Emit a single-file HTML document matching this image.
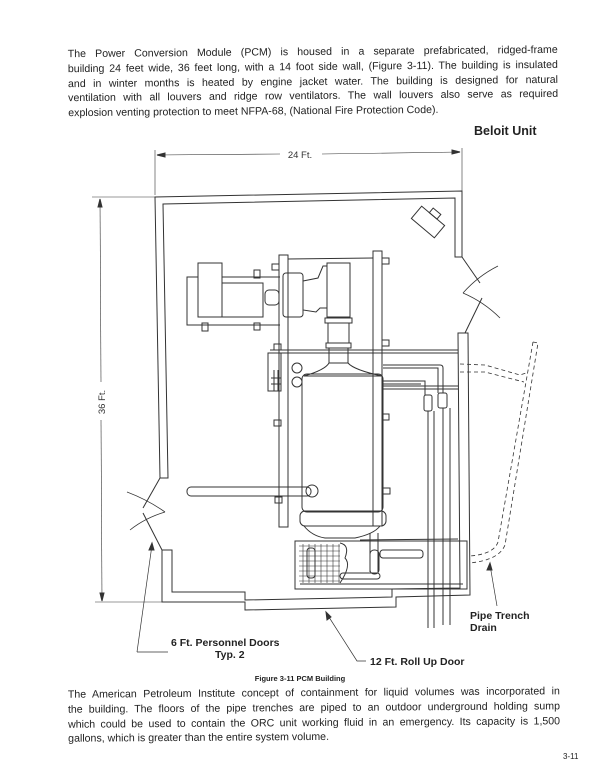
<!DOCTYPE html>
<html><head><meta charset="utf-8"><style>
html,body{margin:0;padding:0;background:#fff;}
body{width:612px;height:780px;position:relative;overflow:hidden;font-family:"Liberation Sans",sans-serif;color:#222;}
.p{position:absolute;left:68px;width:490px;font-size:10.6px;line-height:14.8px;text-align:justify;text-align-last:justify;}
.p div{white-space:nowrap;}
svg{position:absolute;left:0;top:0;}
</style></head><body>
<div class="p" style="top:45px;transform:rotate(-0.5deg);">
<div>The Power Conversion Module (PCM) is housed in a separate prefabricated, ridged-frame</div>
<div>building 24 feet wide, 36 feet long, with a 14 foot side wall, (Figure 3-11). The building is insulated</div>
<div>and in winter months is heated by engine jacket water. The building is designed for natural</div>
<div>ventilation with all louvers and ridge row ventilators. The wall louvers also serve as required</div>
<div style="text-align-last:left">explosion venting protection to meet NFPA-68, (National Fire Protection Code).</div>
</div>
<div style="position:absolute;left:474px;top:124px;font-weight:bold;font-size:12.5px;">Beloit Unit</div>

<svg width="612" height="780" viewBox="0 0 612 780" fill="none" stroke="#333" stroke-width="1">
<!-- dimension 24 ft -->
<line x1="155" y1="150" x2="155" y2="195" stroke-width="0.6"/>
<line x1="462" y1="148" x2="462" y2="192" stroke-width="0.6"/>
<line x1="157" y1="155" x2="280" y2="154" stroke-width="0.6"/>
<line x1="322" y1="154" x2="460" y2="152" stroke-width="0.6"/>
<path d="M157 155 l8 -2 l0 4z M460 152 l-8 -2 l0 4z" fill="#333"/>
<text x="300" y="158" font-size="9.5" fill="#333" stroke="none" text-anchor="middle" font-family="Liberation Sans">24 Ft.</text>
<!-- dimension 36 ft -->
<line x1="92" y1="197" x2="155" y2="197" stroke-width="0.6"/>
<line x1="95" y1="602" x2="162" y2="602" stroke-width="0.6"/>
<line x1="100" y1="199" x2="101" y2="382" stroke-width="0.6"/>
<line x1="101" y1="420" x2="102" y2="600" stroke-width="0.6"/>
<path d="M100 199 l-2 8 l4 0z M102 601 l-2 -8 l4 0z" fill="#333"/>
<text transform="translate(105,402) rotate(-90)" font-size="9.5" fill="#333" stroke="none" text-anchor="middle" font-family="Liberation Sans">36 Ft.</text>
<!-- walls -->
<path d="M160 478 L155 197 L462 191 L462 257 L455 257 L455 198 L163 204 L168 478 Z"/>
<path d="M160 478 L143 508"/>
<path d="M143 513 L162 550"/>
<path d="M462 257 L480 283"/>
<path d="M482 298 L465 333"/>
<path d="M162 550 L162 602 L245 602 L245 610 L396 607 L396 597 L470 595 L468 333 L458 333 L460 588 L392 589 L392 597 L245 600 L245 592 L172 592 L172 550 Z"/>
<!-- door arcs -->
<path d="M463 293 Q478 276 498 266" stroke-width="0.8"/>
<path d="M463 293 Q484 302 500 318" stroke-width="0.8"/>
<path d="M165 512 Q148 500 127 492" stroke-width="0.8"/>
<path d="M165 512 Q145 518 130 530" stroke-width="0.8"/>
<!-- light -->
<g transform="translate(428,222) rotate(40)"><rect x="-15" y="-8" width="30" height="16"/><rect x="-5" y="-14" width="10" height="6"/></g>
<!-- motor -->
<rect x="198" y="263" width="24" height="54"/>
<rect x="222" y="283" width="41" height="34"/>
<rect x="265" y="290" width="14" height="15" rx="4"/>
<path d="M198 277 L187 277 L187 325 L280 325 M222 277 L280 277"/>
<rect x="254" y="270" width="6" height="8"/><rect x="202" y="323" width="6" height="8"/><rect x="254" y="323" width="6" height="7"/>
<!-- frame rails -->
<rect x="279" y="255" width="9" height="272"/>
<rect x="373" y="251" width="9" height="275"/>
<line x1="288" y1="259" x2="373" y2="258"/>
<rect x="272" y="264" width="7" height="6"/><rect x="382" y="258" width="7" height="6"/>
<rect x="274" y="344" width="7" height="6"/><rect x="382" y="340" width="7" height="6"/>
<rect x="274" y="420" width="7" height="6"/><rect x="382" y="414" width="7" height="6"/>
<rect x="275" y="497" width="7" height="6"/><rect x="383" y="488" width="7" height="6"/>
<!-- gearbox & turbine -->
<rect x="283" y="273" width="20" height="44" rx="3"/>
<path d="M303 281 L318 278 L323 266 L327 266 L327 308 L320 308 L316 312 L303 310z"/>
<rect x="327" y="263" width="23" height="54"/>
<rect x="325" y="318" width="27" height="5"/>
<rect x="328" y="323" width="21" height="20"/>
<rect x="326" y="343" width="25" height="5"/>
<rect x="329" y="348" width="19" height="15"/>
<path d="M329 363 Q325 370 304 376 L382 376 Q354 370 348 363"/>
<circle cx="297" cy="368" r="5"/><circle cx="297" cy="382" r="5"/>
<!-- vessel -->
<rect x="302" y="374" width="81" height="138" rx="5"/>
<rect x="300" y="511" width="86" height="15" rx="5"/>
<path d="M304 526 Q312 536 325 538 L355 538 Q374 534 380 526"/>
<!-- horizontal pipes -->
<line x1="270" y1="350" x2="458" y2="350"/><line x1="270" y1="353" x2="458" y2="353"/>
<path d="M383 365 L440 365 Q443 365 443 368 L443 393 M383 368 L438 368 L438 393"/>
<path d="M383 381 L425 381 L425 395 M383 384 L421 384"/>
<line x1="383" y1="386" x2="458" y2="386"/><line x1="383" y1="389" x2="458" y2="389"/>
<!-- vertical pipes -->
<rect x="424" y="395" width="8" height="16" rx="2"/><rect x="438" y="393" width="9" height="15" rx="2"/>
<line x1="428" y1="411" x2="428" y2="628"/><line x1="434" y1="411" x2="434" y2="628"/>
<line x1="443" y1="408" x2="443" y2="625"/><line x1="450" y1="408" x2="450" y2="625"/>
<!-- left pipe -->
<rect x="187" y="487" width="124" height="9" rx="4"/>
<circle cx="312" cy="491" r="6"/>
<!-- grids -->
<rect x="268" y="353" width="13" height="38"/>
<path d="M271 378 L281 378 M271 384 L281 384 M274 370 L274 391 M278 370 L278 391"/>
<rect x="295" y="541" width="172" height="48"/>
<line x1="300" y1="584" x2="463" y2="584"/>
<g stroke-width="0.6">
<path d="M299 546 L340 546 M299 551 L340 551 M299 556 L340 556 M299 561 L340 561 M299 566 L340 566 M299 571 L340 571 M299 576 L340 576 M299 581 L340 581"/>
<path d="M303 544 L303 583 M309 544 L309 583 M315 544 L315 583 M321 544 L321 583 M327 544 L327 583 M333 544 L333 583 M339 544 L339 583"/>
</g>
<path d="M340 543 Q350 545 345 558 Q352 565 340 583"/>
<rect x="307" y="548" width="8" height="30" rx="3"/>
<rect x="340" y="573" width="40" height="6" rx="3"/>
<path d="M370 533 L370 572 M378 533 L378 572"/><rect x="370" y="550" width="9" height="24" rx="4"/>
<rect x="380" y="550" width="43" height="8" rx="3"/>
<line x1="360" y1="540" x2="458" y2="539"/>
<!-- dashed trench drain -->
<g stroke-dasharray="4,3" stroke-width="0.8">
<path d="M460 364 L485 365 L520 375 L526 373"/><path d="M460 372 L485 372 L524 382"/>
<path d="M533 342 L538 343 L505 545 Q499 560 470 563"/>
<path d="M533 342 L498 542 Q494 554 470 556"/>
</g>
<!-- leaders -->
<path d="M137 652 L168 652 M137 652 L152 545" stroke-width="0.7"/>
<path d="M152 543 l-3 7 l5 0z" fill="#333"/>
<path d="M366 661 L357 661 L327 614" stroke-width="0.7"/>
<path d="M326 612 l1 8 l4 -3z" fill="#333"/>
<path d="M497 606 L490 565" stroke-width="0.7"/>
<path d="M490 563 l-3 7 l5 0z" fill="#333"/>
<g fill="#222" stroke="none" font-family="Liberation Sans" font-weight="bold" font-size="10.5">
<text x="470" y="619">Pipe Trench</text>
<text x="470" y="631">Drain</text>
<text x="171" y="646">6 Ft. Personnel Doors</text>
<text x="215" y="658">Typ. 2</text>
<text x="370" y="665">12 Ft. Roll Up Door</text>
<text x="300" y="681" font-size="7.5" text-anchor="middle">Figure 3-11  PCM Building</text>
</g>
</svg>

<div class="p" style="top:686px;width:492px;transform:rotate(-0.4deg);">
<div>The American Petroleum Institute concept of containment for liquid volumes was incorporated in</div>
<div>the building. The floors of the pipe trenches are piped to an outdoor underground holding sump</div>
<div>which could be used to contain the ORC unit working fluid in an emergency. Its capacity is 1,500</div>
<div style="text-align-last:left">gallons, which is greater than the entire system volume.</div>
</div>
<div style="position:absolute;left:563px;top:752px;font-size:8px;">3-11</div>
</body></html>
